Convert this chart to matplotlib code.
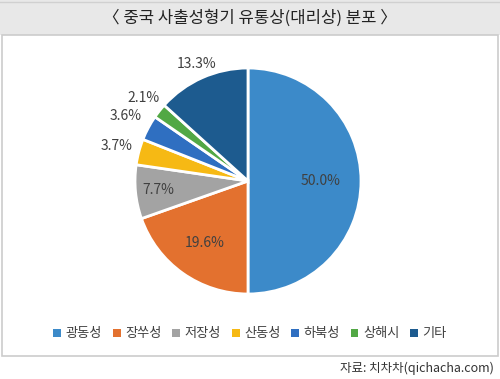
import matplotlib.pyplot as plt
import matplotlib.patches as mpatches
import numpy as np

plt.rcParams['font.family'] = ['Noto Sans CJK KR', 'DejaVu Sans']

regions = ['광동성', '장쑤성', '저장성', '산동성', '하북성', '상해시', '기타']
shares = [50.0, 19.6, 7.7, 3.7, 3.6, 2.1, 13.3]
colors = ['#3c8ac9', '#e3712f', '#a3a3a3', '#f6b914', '#2f6fc1', '#52a845', '#1d5b8f']
label_dist = [0.64, 0.67, 0.8, 1.2, 1.23, 1.18, 1.13]

W, H = 500, 379
fig = plt.figure(figsize=(W / 100, H / 100), dpi=100)
fig.patch.set_facecolor('white')

def px(x, y):
    return x / W, 1 - y / H

# title band and chart frame
bg = fig.add_axes([0, 0, 1, 1])
bg.set_xlim(0, W)
bg.set_ylim(H, 0)
bg.axis('off')
bg.add_patch(mpatches.Rectangle((0, 0), W, 35, facecolor='#e8e8e8', edgecolor='none'))
bg.plot([0, W], [1.5, 1.5], color='#d0d0d0', lw=1)
bg.add_patch(mpatches.Rectangle((2, 35), W - 4, 321, facecolor='white', edgecolor='#cccccc', lw=1.2))
bg.text(W / 2, 18, '〈 중국 사출성형기 유통상(대리상) 분포 〉', ha='center', va='center',
        fontsize=12, fontweight='medium', color='#222222')
bg.text(494, 368, '자료: 치차차(qichacha.com)', ha='right', va='center', fontsize=9, color='#333333')

# pie
r = 113
cx, cy = 248, 181
x0, y0 = px(cx - r, cy + r)
ax = fig.add_axes([x0, y0, 2 * r / W, 2 * r / H])
wedges, _ = ax.pie(shares, colors=colors, startangle=90, counterclock=False,
                   wedgeprops=dict(edgecolor='white', linewidth=2))
ax.set_xlim(-1, 1)
ax.set_ylim(-1, 1)
ax.set_aspect('equal', adjustable='box')
ax.axis('off')

for w, v, d in zip(wedges, shares, label_dist):
    ang = np.deg2rad((w.theta1 + w.theta2) / 2)
    ax.text(d * np.cos(ang), d * np.sin(ang), f'{v:.1f}%', ha='center', va='center',
            fontsize=10, color='#404040', clip_on=False)

handles = [mpatches.Patch(facecolor=c, edgecolor='none') for c in colors]
fig.legend(handles, regions, loc='center', bbox_to_anchor=(0.5, 1 - 334 / H), ncol=7,
           frameon=False, fontsize=9.5, handlelength=0.6, handleheight=0.6,
           handletextpad=0.35, columnspacing=0.8, labelcolor='#404040')

fig.savefig('out.png', dpi=100)
